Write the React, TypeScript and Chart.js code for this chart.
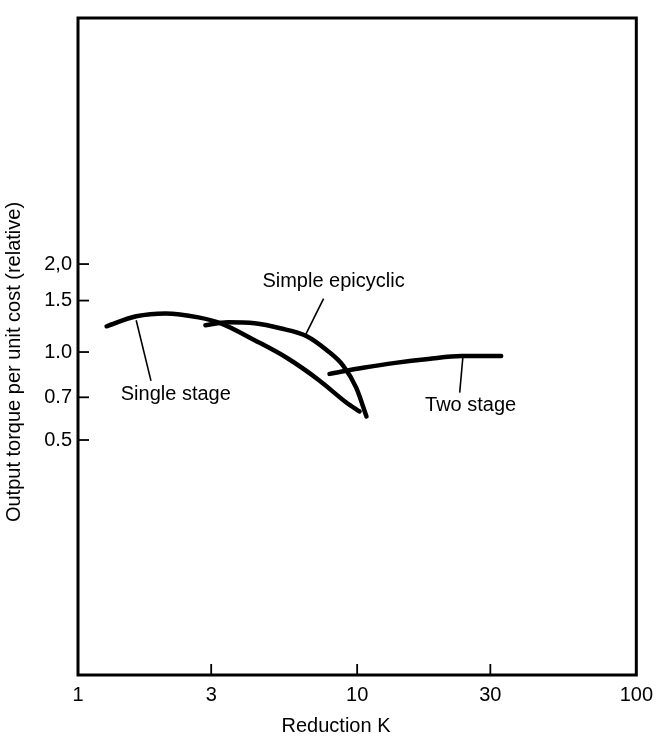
import React, { useEffect, useRef } from "react";
import { Chart, registerables } from "chart.js";

Chart.register(...registerables);

// ---- data ----
const xTickValues = [1, 3, 10, 30, 100];
const yTickValues = [0.5, 0.7, 1.0, 1.5, 2.0];
const yTickLabels: Record<string, string> = { "0.5": "0.5", "0.7": "0.7", "1": "1.0", "1.5": "1.5", "2": "2,0" };

const singleX = [1.266, 1.616, 2.06, 2.7, 3.25, 4.29, 5.61, 7.34, 9.14, 10.2];
const singleY = [1.225, 1.325, 1.356, 1.314, 1.254, 1.098, 0.954, 0.798, 0.672, 0.626];

const epiX = [2.86, 3.44, 4.29, 5.3, 6.6, 7.77, 8.92, 9.92, 10.8];
const epiY = [1.235, 1.264, 1.254, 1.206, 1.133, 1.016, 0.897, 0.755, 0.602];

const twoX = [7.96, 10.5, 13.7, 18.0, 23.7, 32.8];
const twoY = [0.842, 0.883, 0.918, 0.947, 0.969, 0.969];

// curve labels: text, label centre (data coords), leader line from/to (data coords)
const labelTexts = ["Single stage", "Simple epicyclic", "Two stage"];
const labelAt = [
  [2.24, 0.715],
  [8.23, 1.741],
  [25.5, 0.656],
];
const leaderFrom = [
  [1.616, 1.284],
  [6.5, 1.133],
  [23.9, 0.954],
];
const leaderTo = [
  [1.826, 0.797],
  [7.58, 1.524],
  [23.3, 0.726],
];

const xTitle = "Reduction K";
const yTitle = "Output torque per unit cost (relative)";

const FONT = "'Liberation Sans', Arial, sans-serif";

const zip = (xs: number[], ys: number[]) => xs.map((x, i) => ({ x, y: ys[i] }));

export default function App() {
  const ref = useRef<HTMLCanvasElement | null>(null);

  useEffect(() => {
    const canvas = ref.current;
    if (!canvas) return;

    const decor = {
      id: "decor",
      afterDraw(chart: any) {
        const { ctx, chartArea } = chart;
        const xs = chart.scales.x;
        const ys = chart.scales.y;
        ctx.save();
        // frame
        ctx.strokeStyle = "#000";
        ctx.lineWidth = 3;
        ctx.strokeRect(chartArea.left, chartArea.top, chartArea.right - chartArea.left, chartArea.bottom - chartArea.top);
        // inward ticks
        ctx.lineWidth = 1.8;
        xTickValues.slice(1, -1).forEach((v) => {
          const px = xs.getPixelForValue(v);
          ctx.beginPath();
          ctx.moveTo(px, chartArea.bottom);
          ctx.lineTo(px, chartArea.bottom - 11);
          ctx.stroke();
        });
        yTickValues.forEach((v) => {
          const py = ys.getPixelForValue(v);
          ctx.beginPath();
          ctx.moveTo(chartArea.left, py);
          ctx.lineTo(chartArea.left + 11, py);
          ctx.stroke();
        });
        // leader lines + labels
        ctx.lineWidth = 1.6;
        ctx.fillStyle = "#000";
        ctx.font = `20px ${FONT}`;
        ctx.textAlign = "center";
        ctx.textBaseline = "middle";
        labelTexts.forEach((t, i) => {
          ctx.beginPath();
          ctx.moveTo(xs.getPixelForValue(leaderFrom[i][0]), ys.getPixelForValue(leaderFrom[i][1]));
          ctx.lineTo(xs.getPixelForValue(leaderTo[i][0]), ys.getPixelForValue(leaderTo[i][1]));
          ctx.stroke();
          ctx.fillText(t, xs.getPixelForValue(labelAt[i][0]), ys.getPixelForValue(labelAt[i][1]));
        });
        // axis titles
        ctx.fillText(xTitle, 336, 726);
        ctx.translate(14, 362);
        ctx.rotate(-Math.PI / 2);
        ctx.fillText(yTitle, 0, 0);
        ctx.restore();
      },
    };

    const line = (data: { x: number; y: number }[]) => ({
      data,
      borderColor: "#000",
      borderWidth: 4.5,
      pointRadius: 0,
      fill: false,
      cubicInterpolationMode: "monotone" as const,
      borderCapStyle: "round" as const,
    });

    const chart = new Chart(canvas, {
      type: "line",
      data: {
        datasets: [line(zip(singleX, singleY)), line(zip(epiX, epiY)), line(zip(twoX, twoY))],
      },
      options: {
        responsive: false,
        animation: false,
        events: [],
        layout: { padding: { top: 12, right: 17, left: 0, bottom: 0 } },
        plugins: { legend: { display: false }, tooltip: { enabled: false } },
        scales: {
          x: {
            type: "logarithmic",
            min: 1,
            max: 100,
            afterBuildTicks: (s: any) => {
              s.ticks = xTickValues.map((v) => ({ value: v }));
            },
            afterFit: (s: any) => {
              s.height = 62;
            },
            grid: { display: false, drawTicks: false },
            border: { display: false },
            ticks: {
              color: "#000",
              font: { family: FONT, size: 20 },
              padding: 8,
              maxRotation: 0,
              autoSkip: false,
              callback: (v: any) => String(v),
            },
          },
          y: {
            type: "logarithmic",
            min: 0.0785,
            max: 13.9,
            afterBuildTicks: (s: any) => {
              s.ticks = yTickValues.map((v) => ({ value: v }));
            },
            afterFit: (s: any) => {
              s.width = 78;
            },
            grid: { display: false, drawTicks: false },
            border: { display: false },
            ticks: {
              color: "#000",
              font: { family: FONT, size: 20 },
              padding: 6,
              autoSkip: false,
              callback: (v: any) => yTickLabels[String(v)] ?? "",
            },
          },
        },
      },
      plugins: [decor],
    });

    return () => chart.destroy();
  }, []);

  return (
    <div style={{ position: "fixed", left: 0, top: 0, width: 661, height: 737, background: "#fff" }}>
      <canvas ref={ref} width={661} height={737} style={{ display: "block" }} />
    </div>
  );
}
